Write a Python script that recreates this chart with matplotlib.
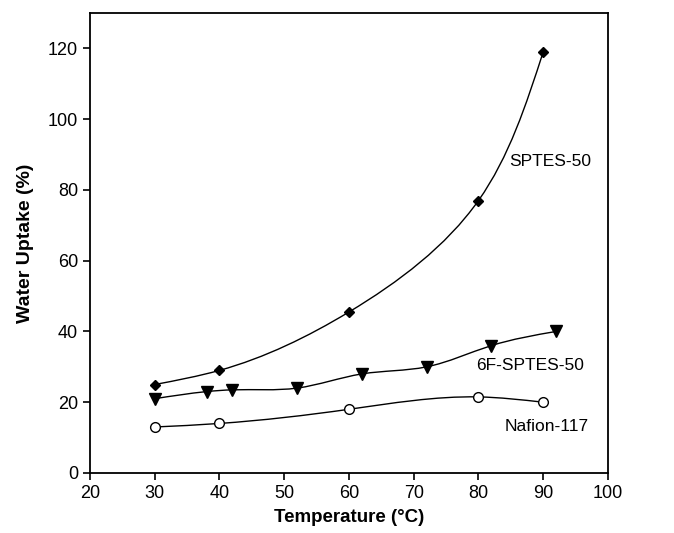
import numpy as np
import matplotlib
matplotlib.use("Agg")
import matplotlib.pyplot as plt
from matplotlib.path import Path
from matplotlib.patches import PathPatch

plt.rcParams['font.family'] = ['Liberation Sans', 'DejaVu Sans']

# data
sptes_t = [30, 40, 60, 80, 90]
sptes_w = [25, 29, 45.5, 77, 119]
f6_t = [30, 38, 42, 52, 62, 72, 82, 92]
f6_w = [21, 23, 23.5, 24, 28, 30, 36, 40]
naf_t = [30, 40, 60, 80, 90]
naf_w = [13, 14, 18, 21.5, 20]


def spline_slopes(t, v):
    # natural cubic spline in parameter t, returns first derivatives at knots
    n = len(t)
    h = np.diff(t)
    s = np.diff(v) / h
    A = np.zeros((n, n))
    b = np.zeros(n)
    A[0, 0] = A[-1, -1] = 1
    for i in range(1, n - 1):
        A[i, i - 1] = h[i - 1]
        A[i, i] = 2 * (h[i - 1] + h[i])
        A[i, i + 1] = h[i]
        b[i] = 6 * (s[i] - s[i - 1])
    M = np.linalg.solve(A, b)
    d = np.empty(n)
    d[:-1] = s - h * (2 * M[:-1] + M[1:]) / 6
    d[-1] = s[-1] + h[-1] * (M[-2] + 2 * M[-1]) / 6
    return d


def smooth_path(x, y, sx=6.475, sy=3.54):
    # parametric spline (chord length in screen units), drawn as bezier segments
    x = np.asarray(x, float)
    y = np.asarray(y, float)
    t = np.concatenate([[0], np.cumsum(np.hypot(np.diff(x) * sx, np.diff(y) * sy))])
    dx = spline_slopes(t, x)
    dy = spline_slopes(t, y)
    verts = [(x[0], y[0])]
    codes = [Path.MOVETO]
    for i in range(len(x) - 1):
        k = (t[i + 1] - t[i]) / 3
        verts += [(x[i] + dx[i] * k, y[i] + dy[i] * k),
                  (x[i + 1] - dx[i + 1] * k, y[i + 1] - dy[i + 1] * k),
                  (x[i + 1], y[i + 1])]
        codes += [Path.CURVE4] * 3
    return Path(verts, codes)


fig = plt.figure(figsize=(6.74, 5.33), dpi=100)
ax = fig.add_axes([0.1335, 0.1126, 0.7685, 0.863])

for t, w in [(sptes_t, sptes_w), (f6_t, f6_w), (naf_t, naf_w)]:
    ax.add_patch(PathPatch(smooth_path(t, w), fill=False, lw=1.0, color='black'))

ax.plot(sptes_t, sptes_w, ls='none', marker='D', ms=5.5, color='black')
ax.plot(f6_t, f6_w, ls='none', marker='v', ms=8.5, color='black')
ax.plot(naf_t, naf_w, ls='none', marker='o', ms=7, mfc='white', mec='black', mew=1.0)

ax.text(84.8, 88, 'SPTES-50', fontsize=12.5, va='center')
ax.text(79.6, 30.5, '6F-SPTES-50', fontsize=12.5, va='center')
ax.text(84, 13, 'Nafion-117', fontsize=12.5, va='center')

ax.set_xlim(20, 100)
ax.set_ylim(0, 130)
ax.set_xticks(range(20, 101, 10))
ax.set_yticks(range(0, 121, 20))
ax.tick_params(direction='out', length=5, width=1.2, labelsize=13, top=False, right=False)
for s in ax.spines.values():
    s.set_linewidth(1.3)

ax.set_xlabel('Temperature (°C)', fontsize=13.5, fontweight='bold', labelpad=5)
ax.set_ylabel('Water Uptake (%)', fontsize=14, fontweight='bold', labelpad=10)

fig.savefig('out.png', dpi=100)
